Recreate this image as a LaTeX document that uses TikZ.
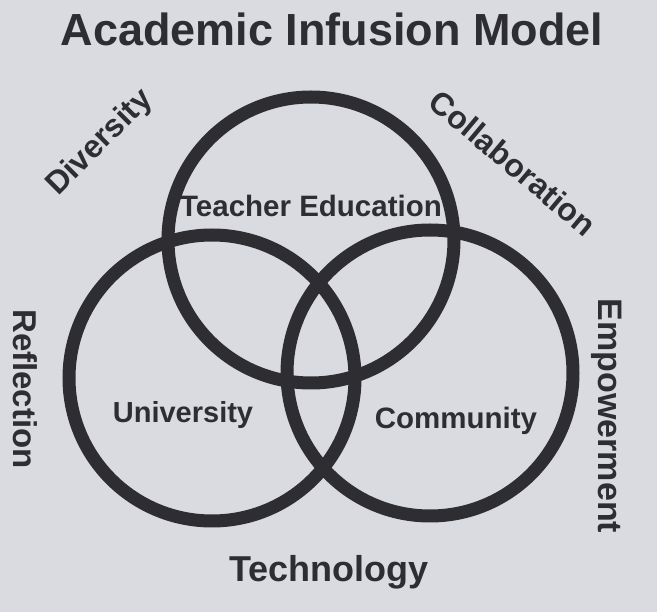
\documentclass[tikz,border=0pt]{standalone}
\usepackage{fontspec}
\setmainfont{Liberation Sans}
\usepackage{xcolor}
\usetikzlibrary{positioning}
\definecolor{ink}{RGB}{46,46,50}
\definecolor{paper}{RGB}{218,219,224}

\newcommand{\fsz}[1]{\fontsize{#1}{#1}\selectfont}

\begin{document}
\begin{tikzpicture}[x=1pt, y=-1pt, font=\bfseries,
  ring/.style={draw=ink, line width=13pt},
  word/.style={text=ink, inner sep=0pt}]
  % page
  \fill[paper] (0,0) rectangle (657,612);
  \useasboundingbox (0,0) rectangle (657,612);

  % the three rings
  \coordinate (teachC) at (311,240);
  \coordinate (univC) at (212,378);
  \coordinate (commC) at (430,373);
  \draw[ring] (teachC) circle[radius=143];
  \draw[ring] (univC) circle[radius=143];
  \draw[ring] (commC) circle[radius=143];

  \node[word, anchor=base, font=\bfseries\fsz{45}] (title) at (332,46) {Academic Infusion Model};

  % ring labels
  \node[word, anchor=base, font=\bfseries\fsz{29.5}] (teach) at (311,217) {Teacher Education};
  \node[word, anchor=base, font=\bfseries\fsz{29}] (univ) at (183,423) {University};
  \node[word, anchor=base, font=\bfseries\fsz{29.5}] (comm) at (456,429) {Community};

  % values round the outside
  \node[word, rotate=45, font=\bfseries\fsz{32}] (div) at (100,143) {Diversity};
  \node[word, rotate=-40, font=\bfseries\fsz{32}] (collab) at (513,163) {Collaboration};
  \node[word, rotate=-90, font=\bfseries\fsz{33}] (refl) at (25,389) {Reflection};
  \node[word, rotate=-90, font=\bfseries\fsz{34}] (empow) at (607,416) {Empowerment};
  \node[word, anchor=base, font=\bfseries\fsz{36}] (tech) at (329,582) {Technology};
\end{tikzpicture}
\end{document}
